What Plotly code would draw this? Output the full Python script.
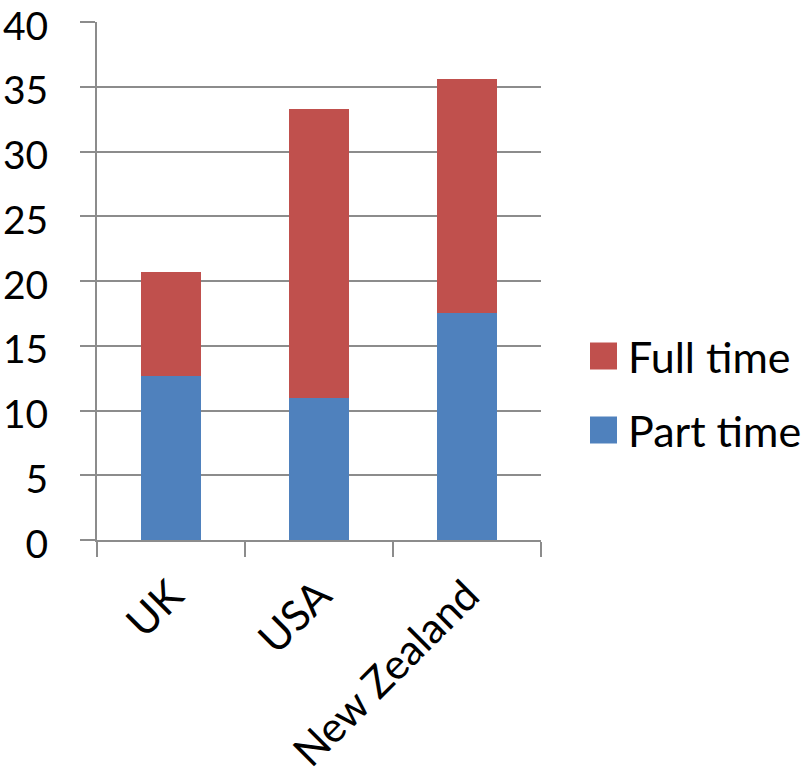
import plotly.graph_objects as go

categories = ["UK", "USA", "New Zealand"]
part_time = [12.7, 11.0, 17.5]
full_time = [8.0, 22.3, 18.1]
series_names = ["Part time", "Full time"]
series_colors = ["#4F81BD", "#C0504D"]
y_ticks = [0, 5, 10, 15, 20, 25, 30, 35, 40]

W, H = 806, 782
L, R, T, B = 97, 265, 22, 242
plot_w = W - L - R
plot_h = H - T - B

FONT = "Lato"
GRID = "#8C8C8C"

fig = go.Figure()
for name, vals, col in zip(series_names, [part_time, full_time], series_colors):
    fig.add_trace(go.Bar(x=categories, y=vals, name=name, marker=dict(color=col, line=dict(width=0)),
                         showlegend=False))

fig.update_layout(
    width=W, height=H,
    margin=dict(l=L, r=R, t=T, b=B, pad=0),
    barmode="stack", bargap=0.6,
    plot_bgcolor="white", paper_bgcolor="white",
    font=dict(family=FONT, size=40, color="black"),
)
fig.update_yaxes(range=[0, 40], tickvals=y_ticks, showgrid=True, gridcolor=GRID, gridwidth=2,
                 showline=True, linecolor=GRID, linewidth=2, ticks="outside", ticklen=15,
                 tickwidth=2, tickcolor=GRID, zeroline=False, ticklabelstandoff=24,
                 ticklabelshift=4,
                 tickfont=dict(size=39), automargin=False, ticklabeloverflow="allow")
fig.update_xaxes(showline=True, linecolor=GRID, linewidth=2, ticks="outside", ticklen=15,
                 tickwidth=2, tickcolor=GRID, tickson="boundaries", tickangle=-45,
                 tickfont=dict(size=42), ticklabelstandoff=12, automargin=False)

# custom legend (large squares), listed top to bottom: Full time, Part time
def px_x(x):
    return (x - L) / plot_w

def px_y(y):
    return (H - B - y) / plot_h

legend_rows = [(series_names[1], series_colors[1], 356), (series_names[0], series_colors[0], 430)]
for name, col, cy in legend_rows:
    fig.add_shape(type="rect", xref="paper", yref="paper",
                  x0=px_x(590), x1=px_x(617), y0=px_y(cy - 13.5), y1=px_y(cy + 13.5),
                  fillcolor=col, line=dict(width=0))
    fig.add_annotation(xref="paper", yref="paper", x=px_x(626), y=px_y(cy),
                       xanchor="left", yanchor="middle", text=name, showarrow=False,
                       font=dict(size=43, family=FONT, color="black"))

fig.write_html("out.html")
